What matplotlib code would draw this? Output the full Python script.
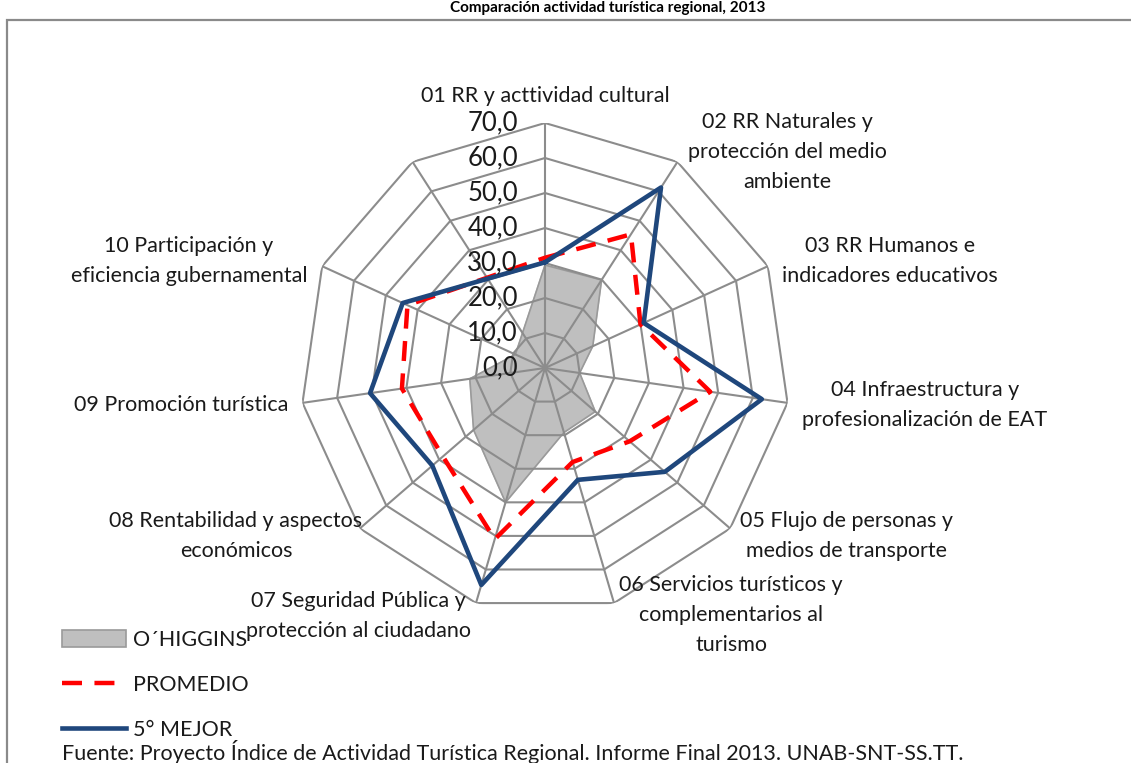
import numpy as np
import matplotlib
matplotlib.use("Agg")
import matplotlib.pyplot as plt
from matplotlib.patches import Rectangle
from matplotlib.lines import Line2D

plt.rcParams['font.family'] = ['Lato', 'DejaVu Sans']

# categories (the 11th axis in the original Excel chart has no label/value)
categories = [
    "01 RR y acttividad cultural",
    "02 RR Naturales y\nprotección del medio\nambiente",
    "03 RR Humanos e\nindicadores educativos",
    "04 Infraestructura y\nprofesionalización de EAT",
    "05 Flujo de personas y\nmedios de transporte",
    "06 Servicios turísticos y\ncomplementarios al\nturismo",
    "07 Seguridad Pública y\nprotección al ciudadano",
    "08 Rentabilidad y aspectos\neconómicos",
    "09 Promoción turística",
    "10 Participación y\neficiencia gubernamental",
    "",
]
ohiggins = [29.4, 29.9, 15.0, 10.0, 19.0, 19.2, 40.0, 27.0, 21.7, 9.3, np.nan]
promedio = [31.5, 45.4, 30.0, 47.7, 32.0, 28.0, 51.0, 38.6, 41.3, 43.2, np.nan]
mejor    = [30.2, 61.3, 31.0, 62.6, 45.3, 33.3, 64.6, 42.6, 50.5, 44.7, np.nan]
rings = [0, 10, 20, 30, 40, 50, 60, 70]

# label centres in pixels (x, y from top)
label_pos = [(545, 96), (787, 152), (890, 261), (925, 405), (847, 536),
             (731, 615), (358, 616), (236, 536), (181, 405), (189, 261)]

W, H = 1131, 763
fig = plt.figure(figsize=(W / 100, H / 100), dpi=100)

cx, cy, R = 545, 368, 245
ax = fig.add_axes([(cx - R) / W, (H - cy - R) / H, 2 * R / W, 2 * R / H],
                  projection='polar')
ax.set_theta_offset(np.pi / 2)
ax.set_theta_direction(-1)
ax.set_ylim(0, 70)
ax.grid(False)
ax.set_xticks([])
ax.set_yticks([])
ax.spines['polar'].set_visible(False)
ax.patch.set_alpha(0)

n = len(categories)
ang = np.arange(n) * 2 * np.pi / n


def closed(vals):
    v = np.array(vals, dtype=float)
    ok = ~np.isnan(v)
    a, r = ang[ok], v[ok]
    return np.append(a, a[0]), np.append(r, r[0])


grid_c = '#8c8c8c'
# gray area (under the grid)
a, r = closed(ohiggins)
ax.fill(a, r, color='#bfbfbf', zorder=1)
ax.plot(a, r, color='#9a9a9a', lw=1.2, zorder=1)

# polygon grid
ga = np.append(ang, ang[0])
for rv in rings[1:]:
    ax.plot(ga, [rv] * len(ga), color=grid_c, lw=1.5, zorder=2)
for t in ang:
    ax.plot([t, t], [0, rings[-1]], color=grid_c, lw=1.5, zorder=2)

a, r = closed(promedio)
ax.plot(a, r, color='#ff0000', lw=3.2, dashes=(4.5, 2.8), zorder=3)
a, r = closed(mejor)
ax.plot(a, r, color='#1f477c', lw=3.3, zorder=4)

# radial tick labels
for rv in rings:
    ax.annotate(f"{rv:.1f}".replace('.', ','), xy=(0, rv), xytext=(-19.5, 0),
                textcoords='offset points', ha='right', va='center',
                fontsize=18.5, color='#1a1a1a', zorder=5)

# category labels
for lab, (px, py) in zip(categories, label_pos):
    fig.text(px / W, 1 - py / H, lab, ha='center', va='center',
             fontsize=15.5, color='#1a1a1a', linespacing=1.62)

# title (cut off at the top edge in the original)
fig.text(608 / W, 1 - 1 / H, "Comparación actividad turística regional, 2013",
         ha='center', va='top', fontsize=11, fontweight='bold')

# frame
fig.patches.append(Rectangle((7 / W, -0.1), 1.2, 1 - 20 / H + 0.1,
                             transform=fig.transFigure, fill=False,
                             edgecolor='#8a8a8a', lw=1.6))

# legend
handles = [
    Rectangle((0, 0), 1, 1, facecolor='#bfbfbf', edgecolor='#9a9a9a', lw=1.2),
    Line2D([], [], color='#ff0000', lw=3.2, dashes=(4.5, 2.8)),
    Line2D([], [], color='#1f477c', lw=3.3),
]
fig.legend(handles, ["O´HIGGINS", "PROMEDIO", "5° MEJOR"],
           loc='upper left', bbox_to_anchor=(53 / W, 1 - 621 / H),
           frameon=False, fontsize=15.5, handlelength=3.0, handleheight=0.9,
           labelspacing=1.15, handletextpad=0.3, labelcolor='#1a1a1a',
           borderaxespad=0)

fig.text(62 / W, 1 - 760 / H,
         "Fuente: Proyecto Índice de Actividad Turística Regional. Informe Final 2013. UNAB-SNT-SS.TT.",
         ha='left', va='baseline', fontsize=15.5, color='#1a1a1a')

fig.savefig("out.png", dpi=100)
